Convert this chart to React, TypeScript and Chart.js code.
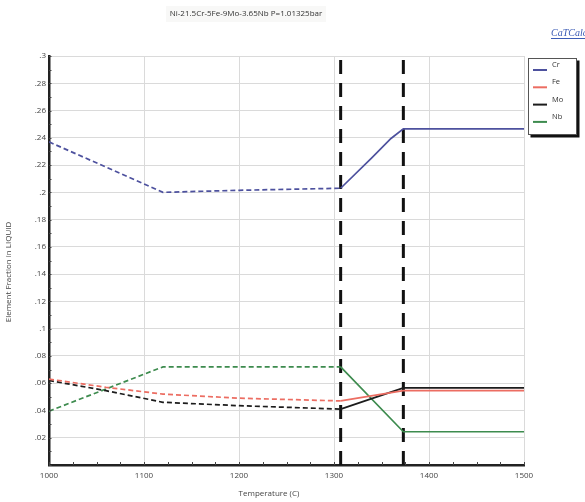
import React, { useEffect, useRef } from "react";
import { Chart, registerables } from "chart.js";
Chart.register(...registerables);

const CHART_TITLE = "Ni-21.5Cr-5Fe-9Mo-3.65Nb P=1.01325bar";
const X_TITLE = "Temperature (C)";
const Y_TITLE = "Element Fraction in LIQUID";
const BRAND = "CaTCalc";

const SERIES_NAMES = ["Cr", "Fe", "Mo", "Nb"];
const SERIES_COLORS = ["#4d519e", "#ec6d62", "#1c1c1c", "#3d8b4e"];

const CR_T = [1000, 1120, 1200, 1307, 1340, 1360, 1373, 1500];
const CR_V = [0.237, 0.2, 0.2015, 0.203, 0.2255, 0.2395, 0.2465, 0.2465];
const FE_T = [1000, 1060, 1120, 1200, 1307, 1373, 1500];
const FE_V = [0.063, 0.057, 0.052, 0.049, 0.047, 0.0545, 0.0545];
const MO_T = [1000, 1060, 1120, 1200, 1307, 1373, 1500];
const MO_V = [0.062, 0.0545, 0.046, 0.0435, 0.041, 0.0565, 0.0565];
const NB_T = [1000, 1120, 1307, 1373, 1500];
const NB_V = [0.0395, 0.072, 0.072, 0.0244, 0.0244];

const SERIES_T = [CR_T, FE_T, MO_T, NB_T];
const SERIES_V = [CR_V, FE_V, MO_V, NB_V];

const PHASE_T = [1307, 1373];

const X_MIN = 1000, X_MAX = 1500, X_MINOR = 25, X_MAJOR = 100;
const Y_MIN = 0, Y_MAX = 0.3, Y_STEP = 0.02, Y_MINOR = 0.01;

const FONT = '"Open Sans", "DejaVu Sans", sans-serif';

const decor = {
  id: "decor",
  afterDraw(chart: any) {
    const { ctx, chartArea, scales } = chart;
    const xs = scales.x, ys = scales.y;
    ctx.save();
    // title background + title
    ctx.fillStyle = "#f8f8f7";
    ctx.fillRect(166, 6, 160, 16);
    ctx.fillStyle = "#333";
    ctx.font = `8px ${FONT}`;
    ctx.textAlign = "center";
    ctx.textBaseline = "middle";
    ctx.fillText(CHART_TITLE, 246, 14);

    // brand link
    ctx.font = 'italic 10px "Liberation Serif", serif';
    ctx.fillStyle = "#3b5bb5";
    ctx.textAlign = "left";
    ctx.fillText(BRAND, 551, 33);
    const bw = ctx.measureText(BRAND).width;
    ctx.strokeStyle = "#3b5bb5";
    ctx.lineWidth = 1;
    ctx.beginPath();
    ctx.moveTo(551, 38.5);
    ctx.lineTo(551 + bw, 38.5);
    ctx.stroke();

    // axis titles
    ctx.fillStyle = "#444";
    ctx.font = `8px ${FONT}`;
    ctx.textAlign = "center";
    ctx.fillText(X_TITLE, 269, 494);
    ctx.save();
    ctx.translate(9, 272);
    ctx.rotate(-Math.PI / 2);
    ctx.fillText(Y_TITLE, 0, 0);
    ctx.restore();

    // minor ticks
    ctx.strokeStyle = "#444";
    ctx.lineWidth = 1;
    ctx.beginPath();
    for (let t = X_MIN; t <= X_MAX; t += X_MINOR) {
      const px = Math.round(xs.getPixelForValue(t)) + 0.5;
      ctx.moveTo(px, chartArea.bottom);
      ctx.lineTo(px, chartArea.bottom - 3);
    }
    for (let i = 0; Y_MIN + i * Y_MINOR <= Y_MAX + 1e-9; i++) {
      const py = Math.round(ys.getPixelForValue(Y_MIN + i * Y_MINOR)) + 0.5;
      ctx.moveTo(chartArea.left, py);
      ctx.lineTo(chartArea.left + 2.5, py);
    }
    ctx.stroke();

    // legend box
    const lx = 528, ly = 58, lw = 49, lh = 77;
    ctx.fillStyle = "#111";
    ctx.fillRect(lx + 2.5, ly + 2.5, lw, lh);
    ctx.fillStyle = "#fff";
    ctx.fillRect(lx, ly, lw, lh);
    ctx.strokeStyle = "#555";
    ctx.strokeRect(lx + 0.5, ly + 0.5, lw - 1, lh - 1);
    ctx.font = `7.5px ${FONT}`;
    ctx.textAlign = "left";
    SERIES_NAMES.forEach((name, i) => {
      const yy = 70 + i * 17.3;
      ctx.strokeStyle = SERIES_COLORS[i];
      ctx.lineWidth = 2;
      ctx.beginPath();
      ctx.moveTo(533, yy);
      ctx.lineTo(547, yy);
      ctx.stroke();
      ctx.fillStyle = "#333";
      ctx.fillText(name, 552, yy - 5);
    });
    ctx.restore();
  },
};

export default function App() {
  const ref = useRef<HTMLCanvasElement | null>(null);
  useEffect(() => {
    if (!ref.current) return;
    const solidus = PHASE_T[0];
    const datasets: any[] = SERIES_NAMES.map((name, i) => ({
      label: name,
      data: SERIES_T[i].map((t, j) => ({ x: t, y: SERIES_V[i][j] })),
      borderColor: SERIES_COLORS[i],
      backgroundColor: SERIES_COLORS[i],
      borderWidth: 1.7,
      pointRadius: 0,
      tension: 0,
      segment: {
        borderDash: (c: any) => (c.p1.parsed.x <= solidus + 0.01 ? [5, 3] : []),
      },
    }));
    PHASE_T.forEach((t) => {
      datasets.push({
        label: "phase " + t,
        data: [
          { x: t, y: Y_MIN },
          { x: t, y: Y_MAX },
        ],
        borderColor: "#111",
        borderWidth: 3,
        borderDash: [14, 9],
        pointRadius: 0,
      });
    });
    const chart = new Chart(ref.current, {
      type: "line",
      data: { datasets },
      options: {
        responsive: false,
        animation: false,
        devicePixelRatio: 1,
        layout: { padding: { top: 56, right: 61, left: 0, bottom: 0 } },
        plugins: { legend: { display: false }, title: { display: false }, tooltip: { enabled: false } },
        scales: {
          x: {
            type: "linear",
            min: X_MIN,
            max: X_MAX,
            afterFit: (s: any) => { s.height = 37; },
            ticks: {
              stepSize: X_MINOR,
              autoSkip: false,
              maxRotation: 0,
              padding: 6,
              color: "#444",
              font: { family: FONT, size: 8 },
              callback: (v: any) => (Number(v) % X_MAJOR === 0 ? String(v) : ""),
            },
            grid: {
              drawTicks: false,
              color: (c: any) => (c.tick && c.tick.value % X_MAJOR === 0 ? "#dadada" : "rgba(0,0,0,0)"),
            },
            border: { color: "#222", width: 2.5 },
          },
          y: {
            type: "linear",
            min: Y_MIN,
            max: Y_MAX,
            afterFit: (s: any) => { s.width = 49; },
            ticks: {
              stepSize: Y_STEP,
              padding: 3,
              color: "#444",
              font: { family: FONT, size: 8 },
              callback: (v: any) => {
                const n = Number(v);
                if (Math.abs(n) < 1e-9) return "";
                return String(+n.toFixed(2)).replace(/^0/, "");
              },
            },
            grid: { drawTicks: false, color: "#dadada" },
            border: { color: "#222", width: 2.5 },
          },
        },
      },
      plugins: [decor],
    });
    return () => chart.destroy();
  }, []);
  return (
    <div style={{ position: "absolute", left: 0, top: 0, width: 585, height: 502, background: "#fff" }}>
      <canvas ref={ref} width={585} height={502} style={{ width: 585, height: 502, display: "block" }} />
    </div>
  );
}
